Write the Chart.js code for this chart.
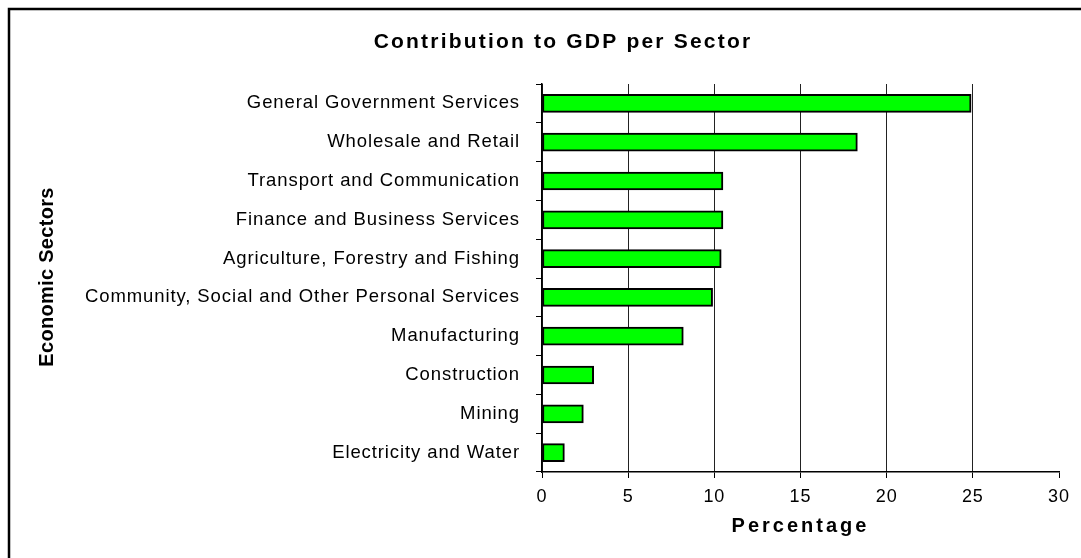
<!DOCTYPE html>
<html>
<head>
<meta charset="utf-8">
<title>Contribution to GDP per Sector</title>
<script src="https://cdn.jsdelivr.net/npm/chart.js@4.4.1/dist/chart.umd.min.js"></script>
<style>
  html, body { margin: 0; padding: 0; background: #fff; }
  #wrap { width: 1081px; height: 558px; position: relative; }
</style>
</head>
<body>
<div id="wrap"><canvas id="gdp"></canvas></div>
<script>
// data
const sectors = [
  'General Government Services',
  'Wholesale and Retail',
  'Transport and Communication',
  'Finance and Business Services',
  'Agriculture, Forestry and Fishing',
  'Community, Social and Other Personal Services',
  'Manufacturing',
  'Construction',
  'Mining',
  'Electricity and Water'
];
const shares = [24.9, 18.3, 10.5, 10.5, 10.4, 9.9, 8.2, 3.0, 2.4, 1.3];
const xTicks = [0, 5, 10, 15, 20, 25, 30];

const chartTitle = 'Contribution to GDP per Sector';
const xTitle = 'Percentage';
const yTitle = 'Economic Sectors';

const FONT = "'Liberation Sans', Arial, sans-serif";

// the original text is wide, so spread the glyphs a bit
const spacingPlugin = {
  id: 'spacing',
  beforeLayout(chart) { chart.ctx.letterSpacing = '0.9px'; },
  beforeDraw(chart) { chart.ctx.letterSpacing = '0.9px'; }
};

// titles (with their own spacing) and the frame of the original sheet
const decorPlugin = {
  id: 'decor',
  afterDraw(chart) {
    const ctx = chart.ctx;
    const area = chart.chartArea;
    ctx.save();
    ctx.fillStyle = '#000';
    ctx.textAlign = 'center';
    ctx.textBaseline = 'middle';

    ctx.font = 'bold 21px ' + FONT;
    ctx.letterSpacing = '2.2px';
    ctx.fillText(chartTitle, 563, 42);

    ctx.font = 'bold 20px ' + FONT;
    ctx.letterSpacing = '3px';
    ctx.fillText(xTitle, (area.left + area.right) / 2, 526);

    ctx.letterSpacing = '0.3px';
    ctx.translate(47, 277);
    ctx.rotate(-Math.PI / 2);
    ctx.fillText(yTitle, 0, 0);
    ctx.restore();

    // only the left and top edges of the frame fall inside the shot
    ctx.save();
    ctx.strokeStyle = '#000';
    ctx.lineWidth = 2.5;
    ctx.beginPath();
    ctx.moveTo(9, chart.height);
    ctx.lineTo(9, 9);
    ctx.lineTo(chart.width, 9);
    ctx.stroke();
    ctx.restore();
  }
};

new Chart(document.getElementById('gdp'), {
  type: 'bar',
  data: {
    labels: sectors,
    datasets: [{
      data: shares,
      backgroundColor: '#00ff00',
      borderColor: '#000',
      borderWidth: 2,
      borderSkipped: false,
      barThickness: 18
    }]
  },
  options: {
    indexAxis: 'y',
    responsive: true,
    maintainAspectRatio: false,
    animation: false,
    layout: { padding: { left: 0, right: 22, top: 84, bottom: 0 } },
    plugins: {
      legend: { display: false },
      tooltip: { enabled: false },
      title: { display: false }
    },
    scales: {
      x: {
        min: 0,
        max: 30,
        afterBuildTicks(scale) { scale.ticks = xTicks.map(v => ({ value: v })); },
        afterFit(scale) { scale.height = 86; },
        grid: {
          color: ctx => (ctx.tick && ctx.tick.value === 30) ? 'rgba(0,0,0,0)' : '#222',
          tickColor: '#000',
          tickLength: 6,
          lineWidth: 1
        },
        border: { color: '#000', width: 1.5 },
        ticks: {
          color: '#000',
          padding: 8,
          font: { family: FONT, size: 18 }
        }
      },
      y: {
        afterFit(scale) { scale.width = 542; },
        grid: {
          offset: true,
          drawOnChartArea: false,
          tickColor: '#000',
          tickLength: 6
        },
        border: { color: '#000', width: 1.5 },
        ticks: {
          color: '#000',
          padding: 16,
          font: { family: FONT, size: 18.5 }
        }
      }
    }
  },
  plugins: [spacingPlugin, decorPlugin]
});
</script>
</body>
</html>
